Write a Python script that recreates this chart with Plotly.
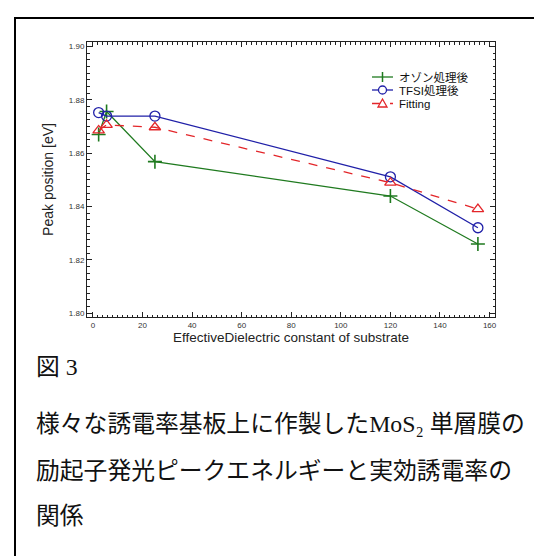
import plotly.graph_objects as go

# ---- data ----
eps_eff = [2.3, 5.5, 25, 120, 155.3]
ozone = [1.8670, 1.8756, 1.8568, 1.8439, 1.8259]
tfsi = [1.8752, 1.8739, 1.8739, 1.8511, 1.8320]
fitting = [1.8685, 1.8706, 1.8697, 1.8489, 1.8390]

series_names = ["オゾン処理後", "TFSI処理後", "Fitting"]
x_title = "EffectiveDielectric constant of substrate"
y_title = "Peak position [eV]"
x_mid_ticks = [10, 30, 50, 70, 90, 110, 130, 150]
y_mid_ticks = [1.81, 1.83, 1.85, 1.87, 1.89]
caption_lines = [
    "図<span style='font-family:Liberation Serif'> 3</span>",
    "様々な誘電率基板上に作製した<span style='font-family:Liberation Serif, DejaVu Serif'>MoS₂ </span>単層膜の",
    "励起子発光ピークエネルギーと実効誘電率の",
    "関係",
]

GREEN = "#1f7a1f"
BLUE = "#2020a8"
RED = "#e3262a"

W, H = 542, 556
ML, MR, MT, MB = 79, 55, 34, 247
PW, PH = W - ML - MR, H - MT - MB
XR = [-2.4, 162.2]
YR = [1.7985, 1.9017]


def px(xpix):
    return (xpix - ML) / PW


def py(ypix):
    return (H - MB - ypix) / PH


fig = go.Figure()
fig.add_trace(go.Scatter(x=eps_eff, y=ozone, mode="lines+markers", name=series_names[0],
                         line=dict(color=GREEN, width=1.3),
                         marker=dict(symbol="cross-thin", size=10, line=dict(color=GREEN, width=1.6))))
fig.add_trace(go.Scatter(x=eps_eff, y=tfsi, mode="lines+markers", name=series_names[1],
                         line=dict(color=BLUE, width=1.3),
                         marker=dict(symbol="circle-open", size=10, color=BLUE, line=dict(color=BLUE, width=1.3))))
fig.add_trace(go.Scatter(x=eps_eff, y=fitting, mode="lines+markers", name=series_names[2],
                         line=dict(color=RED, width=1.3, dash="dash"),
                         marker=dict(symbol="triangle-up-open", size=10, color=RED, line=dict(color=RED, width=1.3))))

axis_common = dict(showline=True, linecolor="#222", linewidth=1, mirror="allticks",
                   ticks="inside", ticklen=5, tickwidth=1, tickcolor="#222",
                   showgrid=False, zeroline=False, automargin=False,
                   tickfont=dict(family="Liberation Sans", size=8, color="#333"))

fig.update_layout(
    xaxis=dict(range=XR, tick0=0, dtick=20,
               minor=dict(dtick=2, tick0=0, ticks="inside", ticklen=2.5, tickcolor="#222", showgrid=False),
               title=dict(text=x_title, font=dict(family="Liberation Sans", size=13.5, color="#222"), standoff=1),
               **axis_common),
    yaxis=dict(range=YR, tick0=1.80, dtick=0.02, tickformat=".2f",
               minor=dict(dtick=0.0025, tick0=1.80, ticks="inside", ticklen=2.5, tickcolor="#222", showgrid=False),
               title=dict(text=y_title, font=dict(family="Liberation Sans", size=14, color="#222"), standoff=11),
               **axis_common),
    xaxis2=dict(overlaying="x", range=XR, tickmode="array", tickvals=x_mid_ticks, showticklabels=False,
                ticks="inside", ticklen=4, tickcolor="#222", mirror="allticks", showline=False,
                showgrid=False, zeroline=False, automargin=False),
    yaxis2=dict(overlaying="y", range=YR, tickmode="array", tickvals=y_mid_ticks, showticklabels=False,
                ticks="inside", ticklen=4, tickcolor="#222", mirror="allticks", showline=False,
                showgrid=False, zeroline=False, automargin=False),
)

shapes = []
annotations = []

# frame lines (top and left)
shapes.append(dict(type="line", xref="paper", yref="paper", x0=px(7), y0=py(H + 2), x1=px(7), y1=py(10),
                   line=dict(color="black", width=2)))
shapes.append(dict(type="line", xref="paper", yref="paper", x0=px(6), y0=py(10), x1=px(W + 2), y1=py(10),
                   line=dict(color="black", width=2)))

# manual legend
leg_rows = [69, 82, 95.5]
lx0, lx1, lxm, ltx = 364, 385, 374.5, 389
colors = [GREEN, BLUE, RED]
for i, (name, c) in enumerate(zip(series_names, colors)):
    r = leg_rows[i]
    shapes.append(dict(type="line", xref="paper", yref="paper", x0=px(lx0), x1=px(lx1), y0=py(r), y1=py(r),
                       line=dict(color=c, width=1.3, dash="dash" if i == 2 else "solid")))
    if i == 0:
        shapes.append(dict(type="line", xref="paper", yref="paper", x0=px(lxm), x1=px(lxm), y0=py(r - 5), y1=py(r + 5),
                           line=dict(color=c, width=1.5)))
    elif i == 1:
        shapes.append(dict(type="circle", xref="paper", yref="paper", x0=px(lxm - 4), x1=px(lxm + 4),
                           y0=py(r + 4), y1=py(r - 4), line=dict(color=c, width=1.3), fillcolor="white"))
    else:
        path = f"M {px(lxm - 4.5)} {py(r + 3.5)} L {px(lxm + 4.5)} {py(r + 3.5)} L {px(lxm)} {py(r - 4.5)} Z"
        shapes.append(dict(type="path", xref="paper", yref="paper", path=path,
                           line=dict(color=c, width=1.3), fillcolor="white"))
    annotations.append(dict(xref="paper", yref="paper", x=px(ltx), y=py(r), xanchor="left", yanchor="middle",
                            text=name, showarrow=False,
                            font=dict(family="Liberation Sans, Noto Sans CJK JP", size=11.5, color="#111")))

# caption
cap_y = [356, 413, 460, 505]
for txt, yy in zip(caption_lines, cap_y):
    annotations.append(dict(xref="paper", yref="paper", x=px(26), y=py(yy), xanchor="left", yanchor="middle",
                            text=txt, showarrow=False,
                            font=dict(family="Noto Sans CJK JP", size=23.8, color="#111")))

fig.update_layout(width=W, height=H, margin=dict(l=ML, r=MR, t=MT, b=MB, autoexpand=False),
                  paper_bgcolor="white", plot_bgcolor="white", showlegend=False,
                  shapes=shapes, annotations=annotations)

fig.write_html("out.html")
